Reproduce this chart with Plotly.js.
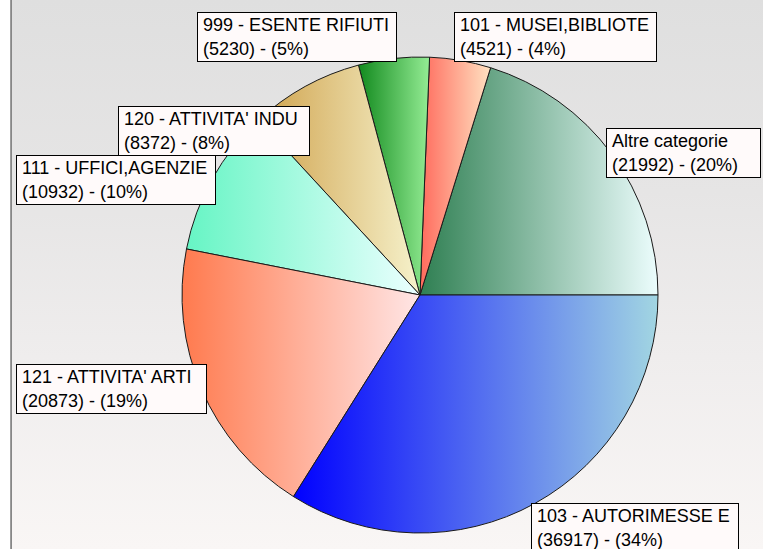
<!DOCTYPE html>
<html>
<head>
<meta charset="utf-8">
<script src="https://cdn.plot.ly/plotly-3.0.1.min.js"></script>
<style>
  html, body { margin: 0; padding: 0; background: #fff; }
  #chart {
    width: 763px; height: 549px;
    background:
      linear-gradient(to right, #ffffff 0px, #ffffff 10px, #a8a8a8 10px, #7c7c7c 12px, rgba(0,0,0,0) 12px),
      linear-gradient(to bottom, #dfdfdf 0%, #e6e5e5 35%, #efeded 65%, #f9f6f5 100%);
  }
</style>
</head>
<body>
<div id="chart"></div>
<script>
// ---- data ----
const categories = [
  "Altre categorie",
  "101 - MUSEI,BIBLIOTE",
  "999 - ESENTE RIFIUTI",
  "120 - ATTIVITA' INDU",
  "111 - UFFICI,AGENZIE",
  "121 - ATTIVITA' ARTI",
  "103 - AUTORIMESSE E"
];
const values = [21992, 4521, 5230, 8372, 10932, 20873, 36917];

// ---- styles ----
const gradStart = ["#2f7f52", "#ff6a5c", "#128a1e", "#cfa24c", "#66f5c4", "#ff7a4e", "#0000ff"];
const gradEnd   = ["#ecfdfd", "#ffe2c2", "#94ec94", "#f6f2cc", "#ecffff", "#ffe6e6", "#a2d6e2"];
const solid     = ["#8fc0aa", "#ffa590", "#50bb58", "#e3ca8c", "#a8fae0", "#ffb09a", "#5c88f0"];
// label box outer rectangles (px): left, top, width
const boxPos = [[606,128,155],[454,12,203],[197,12,200],[118,106,192],[16,155,200],[16,364,191],[531,503,208]];
const boxH = 50, pad = 0, bw = 1;

const W = 763, H = 549;
const total = values.reduce((a,b)=>a+b,0);

const annotations = categories.map((c, i) => ({
  xref: 'paper', yref: 'paper',
  x: boxPos[i][0] / W, y: 1 - boxPos[i][1] / H,
  xanchor: 'left', yanchor: 'top', align: 'left', valign: 'middle',
  width: boxPos[i][2] - 2 * (pad + bw), height: boxH - 2 * (pad + bw),
  showarrow: false,
  text: '\u00a0' + c + '<br>\u00a0(' + values[i] + ') - (' + Math.round(values[i] / total * 100) + '%)',
  font: {family: 'Liberation Sans, Arial, sans-serif', size: 18, color: '#000'},
  bgcolor: '#fffafa', bordercolor: '#000', borderwidth: bw, borderpad: pad
}));

const cx = 420, cy = 295, r = 238;
const trace = {
  type: 'pie',
  labels: categories,
  values: values,
  sort: false,
  direction: 'counterclockwise',
  // first slice must start at 3 o'clock (plotly ends the first ccw slice at the rotation angle)
  rotation: 90 - 360 * values[0] / total,
  textinfo: 'none',
  hoverinfo: 'none',
  marker: {colors: solid, line: {color: '#1a1a1a', width: 1}},
  domain: {x: [(cx - r) / W, (cx + r) / W], y: [1 - (cy + r) / H, 1 - (cy - r) / H]}
};

const layout = {
  width: W, height: H,
  margin: {l: 0, r: 0, t: 0, b: 0},
  paper_bgcolor: 'rgba(0,0,0,0)',
  plot_bgcolor: 'rgba(0,0,0,0)',
  showlegend: false,
  annotations: annotations
};

Plotly.newPlot('chart', [trace], layout, {displayModeBar: false, staticPlot: true}).then(gd => {
  const NS = 'http://www.w3.org/2000/svg';
  const svg = gd.querySelector('svg.main-svg');
  let defs = svg.querySelector('defs');
  if (!defs) { defs = document.createElementNS(NS, 'defs'); svg.insertBefore(defs, svg.firstChild); }
  gd.querySelectorAll('g.slice').forEach((g, k) => {
    const d = g.__data__;
    const i = (d && typeof d.i === 'number') ? d.i : k;
    const id = 'sliceGrad' + i;
    const lg = document.createElementNS(NS, 'linearGradient');
    lg.setAttribute('id', id);
    lg.setAttribute('x1', '0'); lg.setAttribute('y1', '0');
    lg.setAttribute('x2', '1'); lg.setAttribute('y2', '0');
    [[0, gradStart[i]], [1, gradEnd[i]]].forEach(([o, col]) => {
      const s = document.createElementNS(NS, 'stop');
      s.setAttribute('offset', o);
      s.setAttribute('stop-color', col);
      lg.appendChild(s);
    });
    defs.appendChild(lg);
    const p = g.querySelector('path.surface');
    if (p) p.style.fill = 'url(#' + id + ')';
  });
});
</script>
</body>
</html>
